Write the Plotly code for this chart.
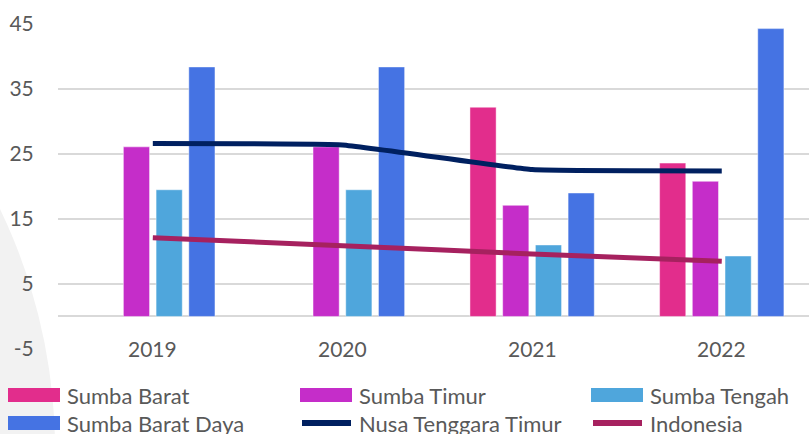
import plotly.graph_objects as go

years = ["2019", "2020", "2021", "2022"]

sumba_barat = [None, None, 32.2, 23.6]
sumba_timur = [26.1, 26.1, 17.1, 20.8]
sumba_tengah = [19.5, 19.5, 11.0, 9.3]
sumba_barat_daya = [38.4, 38.4, 19.0, 44.3]
ntt = [26.6, 26.4, 22.6, 22.4]
indonesia = [12.1, 10.9, 9.6, 8.5]

y_ticks = [-5, 5, 15, 25, 35, 45]
y_tick_labels = ["-5", "5", "15", "25", "35", "45"]

bar_series = [
    ("Sumba Barat", sumba_barat, "#E22D8C"),
    ("Sumba Timur", sumba_timur, "#C52DC9"),
    ("Sumba Tengah", sumba_tengah, "#4FA6DC"),
    ("Sumba Barat Daya", sumba_barat_daya, "#4573E3"),
]
line_series = [
    ("Nusa Tenggara Timur", ntt, "#002060"),
    ("Indonesia", indonesia, "#A6215F"),
]

FONT = "Lato"
TXT = "#595959"
W, H = 809, 434
ML, MR, MT, MB = 58, 0, 24, 85
PW, PH = W - ML - MR, H - MT - MB


def px_x(x):
    return (x - ML) / PW


def px_y(y):
    return (H - MB - y) / PH


fig = go.Figure()

for name, vals, color in bar_series:
    fig.add_trace(go.Bar(
        x=years, y=vals, name=name, marker_color=color,
        marker_line=dict(color="rgba(255,255,255,0.45)", width=1),
        showlegend=False,
    ))

for name, vals, color in line_series:
    fig.add_trace(go.Scatter(
        x=years, y=vals, name=name, mode="lines",
        line=dict(color=color, width=5, shape="spline", smoothing=0.3),
        showlegend=False,
    ))

shapes = [
    # decorative background circle at the left
    dict(type="circle", xref="paper", yref="paper", layer="below",
         x0=px_x(-1055), x1=px_x(55), y0=px_y(1005), y1=px_y(-105),
         fillcolor="#F2F2F2", line=dict(width=0)),
]
annotations = []

# category labels sit on the -5 gridline, like the original
for i, yr in enumerate(years):
    annotations.append(dict(x=i, y=-5, xref="x", yref="y", text=yr,
                            showarrow=False, yanchor="middle",
                            font=dict(family=FONT, size=21, color=TXT)))

# custom legend, 3 columns x 2 rows
legend_items = [(n, c, "bar") for n, _, c in bar_series] + \
               [(n, c, "line") for n, _, c in line_series]
col_x = [8, 300, 591]
row_y = [395, 423]
for i, (name, color, kind) in enumerate(legend_items):
    cx = col_x[i % 3]
    cy = row_y[i // 3]
    if kind == "bar":
        shapes.append(dict(type="rect", xref="paper", yref="paper",
                           x0=px_x(cx), x1=px_x(cx + 52),
                           y0=px_y(cy + 7), y1=px_y(cy - 7),
                           fillcolor=color, line=dict(width=0)))
    else:
        shapes.append(dict(type="line", xref="paper", yref="paper",
                           x0=px_x(cx + 2), x1=px_x(cx + 51),
                           y0=px_y(cy), y1=px_y(cy),
                           line=dict(color=color, width=6)))
    annotations.append(dict(x=px_x(cx + 57), y=px_y(cy), xref="paper", yref="paper",
                            text=name, showarrow=False, xanchor="left",
                            yanchor="middle",
                            font=dict(family=FONT, size=22, color=TXT)))

fig.update_layout(
    width=W, height=H,
    margin=dict(l=ML, r=MR, t=MT, b=MB),
    barmode="group", bargap=0.31, bargroupgap=0.2,
    paper_bgcolor="white", plot_bgcolor="rgba(0,0,0,0)",
    font=dict(family=FONT, size=20, color=TXT),
    shapes=shapes, annotations=annotations,
    showlegend=False,
    xaxis=dict(type="category", range=[-0.5, 3.46], showticklabels=False,
               showgrid=False, zeroline=False, showline=False),
    yaxis=dict(range=[-5.01, 45.01], tickvals=y_ticks, ticktext=y_tick_labels,
               showgrid=True, gridcolor="#D9D9D9", gridwidth=1.5,
               zeroline=True, zerolinecolor="#D9D9D9", zerolinewidth=1.5,
               ticks="outside", ticklen=19, tickcolor="rgba(0,0,0,0)",
               tickfont=dict(family=FONT, size=21, color=TXT)),
)

fig.write_html("out.html", config={"displayModeBar": False},
               post_script="document.body.style.margin='0';")
